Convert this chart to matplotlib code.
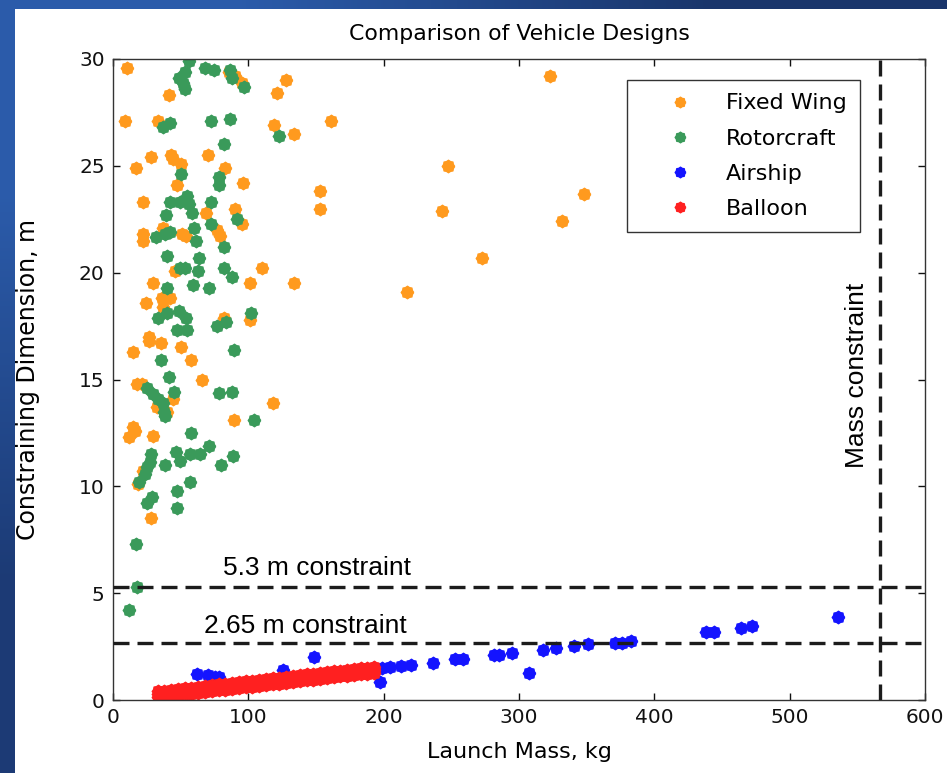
'''
scatter comparison of vehicle designs: launch mass vs constraining dimension,
with the dimension and mass constraints drawn as dashed lines
'''
## Imports
import numpy as np
import matplotlib
matplotlib.use("Agg")
import matplotlib.pyplot as plt
from matplotlib.patches import Rectangle

## data (launch mass in kg, constraining dimension in m)
fixed_wing_mass = [10.1, 41.7, 8.9, 33.6, 85.4, 90.0, 95.5, 121.0, 128.0, 118.7, 133.6,
                   28.1, 17.0, 43.0, 44.0, 50.4, 69.9, 82.5, 47.6, 96.0, 22.5, 68.9, 90.4,
                   95.3, 37.3, 22.0, 22.3, 51.0, 54.0, 76.8, 79.3, 110.0, 46.0, 29.9, 101.5,
                   133.6, 24.4, 36.0, 42.2, 37.3, 81.7, 101.5, 26.9, 26.9, 35.3, 14.6, 50.4,
                   57.5, 65.7, 17.5, 21.2, 44.7, 32.3, 39.8, 118.3, 89.1, 12.1, 15.0, 16.3,
                   29.9, 22.5, 18.7, 28.1, 161.3, 247.2, 152.8, 152.8, 243.0, 323.2, 347.9,
                   331.9, 272.6, 217.3]
fixed_wing_dim = [29.6, 28.3, 27.1, 27.1, 29.4, 29.2, 28.9, 28.4, 29.0, 26.9, 26.5,
                  25.4, 24.9, 25.5, 25.3, 25.1, 25.5, 24.9, 24.1, 24.2, 23.3, 22.8, 23.0,
                  22.3, 22.1, 21.8, 21.5, 21.8, 21.7, 22.0, 21.7, 20.2, 20.1, 19.5, 19.5,
                  19.5, 18.6, 18.8, 18.8, 18.4, 17.9, 17.8, 17.0, 16.8, 16.7, 16.3, 16.5,
                  15.9, 15.0, 14.8, 14.8, 14.1, 13.7, 13.5, 13.9, 13.1, 12.3, 12.8, 12.6,
                  12.35, 10.7, 10.1, 8.5, 27.1, 25.0, 23.8, 23.0, 22.9, 29.2, 23.7,
                  22.4, 20.7, 19.1]

rotorcraft_mass = [55.8, 53.3, 49.0, 51.6, 53.3, 68.1, 74.3, 86.7, 87.9, 96.5, 37.3, 42.2,
                   72.6, 86.7, 122.4, 81.7, 50.4, 78.0, 78.5, 42.2, 49.6, 55.0, 55.8, 72.6,
                   39.3, 58.3, 60.2, 91.6, 31.9, 38.5, 42.2, 61.5, 72.6, 81.7, 39.8, 63.9,
                   49.6, 53.3, 62.7, 82.2, 87.9, 39.8, 59.0, 71.3, 33.6, 39.8, 49.1, 54.1,
                   47.2, 54.6, 76.8, 83.7, 102.0, 89.1, 35.3, 41.7, 25.0, 29.9, 33.6, 37.3,
                   37.8, 38.5, 45.2, 78.0, 87.9, 103.9, 57.5, 71.3, 28.1, 27.4, 46.7, 49.6,
                   57.0, 64.4, 38.5, 79.8, 88.4, 25.0, 23.5, 19.5, 57.0, 47.6, 28.7, 25.0,
                   47.6, 17.0, 17.5, 12.1]
rotorcraft_dim = [29.9, 29.4, 29.1, 28.9, 28.6, 29.6, 29.5, 29.5, 29.1, 28.7, 26.8, 27.0,
                  27.1, 27.2, 26.4, 26.0, 24.6, 24.5, 24.1, 23.3, 23.3, 23.6, 23.2, 23.3,
                  22.7, 22.8, 22.1, 22.5, 21.65, 21.8, 21.9, 21.5, 22.3, 21.2, 20.8, 20.7,
                  20.2, 20.2, 20.1, 20.2, 19.8, 19.3, 19.4, 19.3, 17.9, 18.1, 18.2, 17.9,
                  17.3, 17.3, 17.5, 17.7, 18.1, 16.4, 15.9, 15.1, 14.6, 14.3, 14.1, 13.9,
                  13.5, 13.3, 14.4, 14.35, 14.4, 13.1, 12.5, 11.9, 11.5, 11.15, 11.6, 11.2,
                  11.5, 11.5, 11.0, 11.0, 11.4, 10.9, 10.6, 10.2, 10.2, 9.8, 9.5, 9.2,
                  9.0, 7.3, 5.3, 4.2]

airship_mass = [35, 42, 50, 58, 70, 85, 100, 115, 130, 140, 155, 170, 185, 192,
                61.9, 70.5, 75.4, 78.6, 125.5, 148.2, 197.0, 198.5, 205.0, 212.6, 220.0,
                236.3, 252.8, 258.5, 281.3, 285.0, 294.8, 307.6, 317.6, 327.4, 341.0,
                351.0, 371.3, 376.0, 382.4, 437.9, 444.0, 463.8, 472.4, 535.8]
airship_dim = [0.20, 0.25, 0.33, 0.38, 0.47, 0.60, 0.70, 0.82, 0.95, 1.05, 1.10, 1.30, 1.38, 1.50,
               1.22, 1.17, 1.09, 1.06, 1.40, 2.00, 0.85, 1.52, 1.56, 1.59, 1.66,
               1.72, 1.90, 1.90, 2.10, 2.10, 2.18, 1.28, 2.34, 2.45, 2.53,
               2.62, 2.68, 2.68, 2.78, 3.20, 3.20, 3.38, 3.48, 3.90]

balloon_mass = [33, 38, 43, 48, 53, 58, 63, 68, 73, 78, 83, 88, 93, 98, 103, 108, 113,
                118, 123, 128, 133, 138, 143, 148, 153, 158, 163, 168, 173, 178, 183, 188, 193]
balloon_dim_hi = [0.40, 0.44, 0.48, 0.51, 0.55, 0.58, 0.62, 0.66, 0.69, 0.73, 0.77, 0.80,
                  0.84, 0.87, 0.91, 0.95, 0.98, 1.02, 1.05, 1.09, 1.13, 1.16, 1.20, 1.23,
                  1.27, 1.31, 1.34, 1.38, 1.42, 1.45, 1.49, 1.52, 1.56]
balloon_dim_mid = [0.26, 0.30, 0.34, 0.37, 0.41, 0.44, 0.48, 0.52, 0.55, 0.59, 0.63, 0.66,
                   0.70, 0.73, 0.77, 0.81, 0.84, 0.88, 0.91, 0.95, 0.99, 1.02, 1.06, 1.09,
                   1.13, 1.17, 1.20, 1.24, 1.28, 1.31, 1.35, 1.38, 1.42]
balloon_dim_lo = [0.12, 0.16, 0.20, 0.23, 0.27, 0.30, 0.34, 0.38, 0.41, 0.45, 0.49, 0.52,
                  0.56, 0.59, 0.63, 0.67, 0.70, 0.74, 0.77, 0.81, 0.85, 0.88, 0.92, 0.95,
                  0.99, 1.03, 1.06, 1.10, 1.14, 1.17, 1.21, 1.24, 1.28]

## constraints
dim_constraints = [5.3, 2.65]
dim_labels = ["5.3 m constraint", "2.65 m constraint"]
mass_constraint = 567

## styling
colors = {"Fixed Wing": "#FF9A1E", "Rotorcraft": "#3A9A5A", "Airship": "#1414FF", "Balloon": "#FF2020"}
axis_font = "DejaVu Sans"
note_font = "Liberation Sans"


def bump_marker(points:int=8, inner:float=0.84) -> list:
    '''
    builds a round marker with small spikes, like the matlab ones in the picture
    Parameters:
        - points: number of spikes [Integer]
        - inner: radius of the dents relative to the spikes [Float]
    Returns:
        - verts: list of vertices [List]
    '''
    angles = np.linspace(0, 2 * np.pi, 2 * points, endpoint=False)
    radii = np.where(np.arange(2 * points) % 2 == 0, 1.0, inner)
    verts = [(r * np.cos(a), r * np.sin(a)) for r, a in zip(radii, angles)]
    verts.append(verts[0])
    return verts


def draw_background(fig:object) -> None:
    '''
    blue slide border with white plotting area
    '''
    bg = fig.add_axes([0, 0, 1, 1], zorder=-10)
    grad = np.array([[[0.17, 0.36, 0.67], [0.10, 0.21, 0.42]],
                     [[0.11, 0.23, 0.46], [0.08, 0.16, 0.35]]])
    bg.imshow(grad, extent=[0, 1, 0, 1], aspect="auto", interpolation="bilinear")
    bg.add_patch(Rectangle((15 / 947, 0), 1, 1 - 9 / 773, facecolor="white", edgecolor="none"))
    bg.set_xlim(0, 1)
    bg.set_ylim(0, 1)
    bg.axis("off")


def main() -> None:
    ## init figure
    fig = plt.figure(figsize=(9.47, 7.73), dpi=100)
    draw_background(fig)
    ax = fig.add_axes([113 / 947, 73 / 773, 812 / 947, 641 / 773])
    ax.set_facecolor("white")

    marker = bump_marker()
    ms = 9
    ## scatter series
    ax.plot(fixed_wing_mass, fixed_wing_dim, ls="none", marker=marker, ms=ms,
            color=colors["Fixed Wing"], label="Fixed Wing")
    ax.plot(rotorcraft_mass, rotorcraft_dim, ls="none", marker=marker, ms=ms,
            color=colors["Rotorcraft"], label="Rotorcraft")
    ax.plot(airship_mass, airship_dim, ls="none", marker=marker, ms=ms,
            color=colors["Airship"], label="Airship")
    ax.plot(balloon_mass * 3, balloon_dim_lo + balloon_dim_mid + balloon_dim_hi, ls="none",
            marker=marker, ms=ms, color=colors["Balloon"], label="Balloon")

    ## constraint lines
    for val in dim_constraints:
        ax.axhline(val, color="#1c1c1c", lw=2.4, dashes=(4.8, 2.4), zorder=3)
    ax.axvline(mass_constraint, color="#1c1c1c", lw=2.4, dashes=(4.8, 2.4), zorder=3)
    ax.text(81, 5.85, dim_labels[0], family=note_font, fontsize=19, va="baseline", ha="left")
    ax.text(67, 3.15, dim_labels[1], family=note_font, fontsize=19, va="baseline", ha="left")
    ax.text(550, 15.2, "Mass constraint", family=note_font, fontsize=19, rotation=90,
            va="center", ha="center")

    ## axes
    ax.set_xlim(0, 600)
    ax.set_ylim(0, 30)
    ax.set_xticks(np.arange(0, 601, 100))
    ax.set_yticks(np.arange(0, 31, 5))
    ax.tick_params(direction="in", length=5, width=1, top=True, right=True,
                   labelsize=14.5, pad=6, colors="#111111")
    for lab in ax.get_xticklabels() + ax.get_yticklabels():
        lab.set_family(axis_font)
    for sp in ax.spines.values():
        sp.set_color("#333333")
        sp.set_linewidth(1.0)
    ax.set_xlabel("Launch Mass, kg", family=axis_font, fontsize=16, va="center")
    ax.xaxis.set_label_coords(0.5, -0.081)
    ax.set_ylabel("Constraining Dimension, m", family=axis_font, fontsize=17, va="center")
    ax.yaxis.set_label_coords(-0.105, 0.5)
    ax.set_title("Comparison of Vehicle Designs", family=axis_font, fontsize=15.8, pad=14)

    ## legend
    leg = ax.legend(loc="upper right", bbox_to_anchor=(0.92, 0.967), borderaxespad=0,
                    prop={"family": axis_font, "size": 16}, numpoints=1, markerscale=0.85,
                    handlelength=3.6, handletextpad=0.25, borderpad=0.6, labelspacing=0.68,
                    fancybox=False, framealpha=1, edgecolor="#333333")
    leg.get_frame().set_linewidth(1.0)

    fig.savefig("out.png", dpi=100)


if __name__ == "__main__":
    main()
